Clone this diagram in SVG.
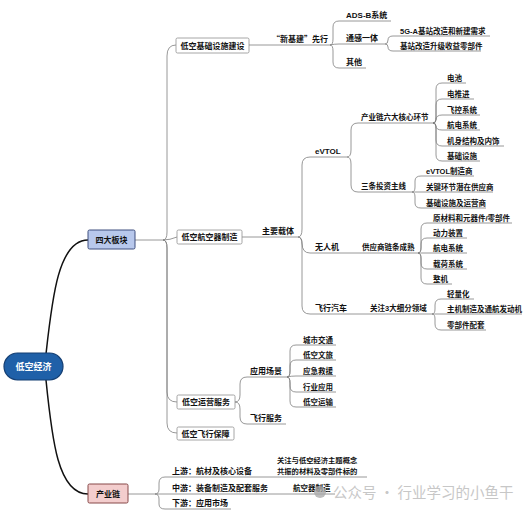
<svg xmlns="http://www.w3.org/2000/svg" width="530" height="513" viewBox="0 0 530 513">
<style>
.ln{fill:none;stroke:#7d7d7d;stroke-width:0.8}
.rt{fill:none;stroke:#111;stroke-width:1.5}
.t{font-family:"Liberation Sans","Noto Sans CJK SC",sans-serif;font-weight:700;font-size:8px;fill:#111}
.s{font-family:"Liberation Sans","Noto Sans CJK SC",sans-serif;font-weight:700;font-size:7.5px;fill:#111}
.x{font-family:"Noto Sans CJK SC",sans-serif;font-weight:700;font-size:7.3px;fill:#111}
.c{text-anchor:middle}
.box{fill:#fff;stroke:#8f8f8f;stroke-width:0.8}
</style>
<rect width="530" height="513" fill="#fff"/>
<g id="connectors">
<path class="rt" d="M46,354 C52,300 58,240 88,240"/>
<path class="rt" d="M46,380 C52,440 58,494 88,494"/>
<path class="ln" d="M135,240 L163,240"/>
<path class="ln" d="M163,240 Q167,240 167,232 L167,56 Q167,45 176,45"/>
<path class="ln" d="M163,240 Q170,240 177,237"/>
<path class="ln" d="M163,240 Q167,240 167,248 L167,392 Q167,402 177,402"/>
<path class="ln" d="M163,240 Q167,240 167,248 L167,423 Q167,433 177,433"/>
<path class="ln" d="M249,45 L330,45"/>
<path class="ln" d="M330,45 Q333,45 333,39 L333,27 Q333,21 339,21 L391,21"/>
<path class="ln" d="M330,45 Q334,44 339,44 L385,44"/>
<path class="ln" d="M330,45 Q333,45 333,51 L333,62 Q333,68 339,68 L366,68"/>
<path class="ln" d="M385,44 Q388,44 388,40 Q388,36 393,36 L490,36"/>
<path class="ln" d="M385,44 Q388,44 388,47 Q388,51 393,51 L481,51"/>
<path class="ln" d="M242,237 L298,237"/>
<path class="ln" d="M298,237 Q302,237 302,229 L302,165 Q302,157 310,157 L347,157"/>
<path class="ln" d="M298,237 Q302,237 302,243 Q302,253 310,253 L418,253"/>
<path class="ln" d="M298,237 Q302,237 302,245 L302,306 Q302,314 310,314 L432,314"/>
<path class="ln" d="M347,157 Q351,157 351,150 L351,130 Q351,123 358,123 L433,123"/>
<path class="ln" d="M347,157 Q351,157 351,164 L351,185 Q351,192 358,192 L412,192"/>
<path class="ln" d="M433,123 Q436,123 436,117 L436,89 Q436,83 442,83 L466,83"/>
<path class="ln" d="M433,123 Q436,123 436,117 L436,105 Q436,99 442,99 L474,99"/>
<path class="ln" d="M433,123 Q436,123 436,120 Q436,115 442,115 L480,115"/>
<path class="ln" d="M433,123 Q436,123 436,126 Q436,130 442,130 L480,130"/>
<path class="ln" d="M433,123 Q436,123 436,129 L436,140 Q436,146 442,146 L504,146"/>
<path class="ln" d="M433,123 Q436,123 436,129 L436,155 Q436,161 442,161 L480,161"/>
<path class="ln" d="M412,192 Q415,192 415,187 L415,181 Q415,176 421,176 L474,176"/>
<path class="ln" d="M412,192 L493,192"/>
<path class="ln" d="M412,192 Q415,192 415,197 L415,203 Q415,208 421,208 L486,208"/>
<path class="ln" d="M418,253 Q421,253 421,247 L421,229 Q421,223 427,223 L512,223"/>
<path class="ln" d="M418,253 Q421,253 421,248 L421,244 Q421,238 427,238 L467,238"/>
<path class="ln" d="M418,253 L467,253"/>
<path class="ln" d="M418,253 Q421,253 421,258 L421,263 Q421,269 427,269 L467,269"/>
<path class="ln" d="M418,253 Q421,253 421,259 L421,278 Q421,284 427,284 L452,284"/>
<path class="ln" d="M432,314 Q435,314 435,309 L435,305 Q435,299 441,299 L474,299"/>
<path class="ln" d="M432,314 L522,314"/>
<path class="ln" d="M432,314 Q435,314 435,319 L435,324 Q435,330 441,330 L486,330"/>
<path class="ln" d="M235,402 Q240,402 240,395 L240,384 Q240,377 247,377 L287,377"/>
<path class="ln" d="M235,402 Q240,402 240,409 L240,417 Q240,424 247,424 L286,424"/>
<path class="ln" d="M287,377 Q290,377 290,371 L290,351 Q290,345 296,345 L336,345"/>
<path class="ln" d="M287,377 Q290,377 290,371 L290,366 Q290,360 296,360 L336,360"/>
<path class="ln" d="M287,377 Q291,376 296,376 L336,376"/>
<path class="ln" d="M287,377 Q290,377 290,383 L290,386 Q290,392 296,392 L336,392"/>
<path class="ln" d="M287,377 Q290,377 290,383 L290,401 Q290,407 296,407 L336,407"/>
<path class="ln" d="M128,494 L155,494"/>
<path class="ln" d="M155,494 Q159,494 159,489 L159,483 Q159,477 165,477 L367,477"/>
<path class="ln" d="M155,494 L335,494"/>
<path class="ln" d="M155,494 Q159,494 159,499 L159,504 Q159,509 165,509 L231,509"/>
</g>
<g id="root">
<rect x="4" y="353" width="59" height="27" rx="13.5" fill="#1f60a8" stroke="#153f73" stroke-width="1.2"/>
<text class="t c" x="33.5" y="370" style="font-size:9px;fill:#fff">低空经济</text>
</g>
<g id="sidaban">
<rect x="88" y="230" width="47" height="19" rx="1.5" fill="#b8c8ec" stroke="#3f4f7e" stroke-width="1"/>
<text class="t c" x="111.5" y="242.5">四大板块</text>
</g>
<g id="chanyelian">
<rect x="88" y="484" width="40" height="19" rx="1.5" fill="#f3cdcd" stroke="#874848" stroke-width="1"/>
<text class="t c" x="108" y="496.5">产业链</text>
</g>
<g id="infra">
<rect class="box" x="176" y="38" width="73" height="15" rx="1.5"/>
<text class="t c" x="212.5" y="48.5">低空基础设施建设</text>
</g>
<g id="aircraft">
<rect class="box" x="177" y="230" width="65" height="14" rx="1.5"/>
<text class="t c" x="209.5" y="240">低空航空器制造</text>
</g>
<g id="ops">
<rect class="box" x="177" y="395" width="58" height="14" rx="1.5"/>
<text class="t c" x="206" y="405">低空运营服务</text>
</g>
<g id="guarantee">
<rect class="box" x="177" y="427" width="57" height="13" rx="1.5"/>
<text class="t c" x="205.5" y="436.5">低空飞行保障</text>
</g>
<g id="infra-children">
<text class="t" x="272" y="42" style="font-family:'Noto Sans CJK SC',sans-serif">“新基建”先行</text>
<text class="t" x="346" y="18">ADS-B系统</text>
<text class="t" x="346" y="41">通感一体</text>
<text class="t" x="346" y="65">其他</text>
<text class="s" x="400" y="33.5">5G-A基站改造和新建需求</text>
<text class="s" x="400" y="48.5">基站改造升级收益零部件</text>
</g>
<g id="aircraft-children">
<text class="t" x="262" y="234">主要载体</text>
<text class="t" x="315" y="154">eVTOL</text>
<text class="t" x="315" y="250">无人机</text>
<text class="t" x="315" y="311">飞行汽车</text>
<text class="s" x="361" y="120">产业链六大核心环节</text>
<text class="s" x="361" y="189">三条投资主线</text>
<text class="s" x="362" y="250">供应商链条成熟</text>
<text class="s" x="370" y="311">关注3大细分领域</text>
<text class="s" x="447" y="80.5">电池</text>
<text class="s" x="447" y="96.5">电推进</text>
<text class="s" x="447" y="112.5">飞控系统</text>
<text class="s" x="447" y="127.5">航电系统</text>
<text class="s" x="447" y="143.5">机身结构及内饰</text>
<text class="s" x="447" y="158.5">基础设施</text>
<text class="s" x="426" y="173.5">eVTOL制造商</text>
<text class="s" x="426" y="189.5">关键环节潜在供应商</text>
<text class="s" x="426" y="205.5">基础设施及运营商</text>
<text class="s" x="433" y="220.5">原材料和元器件/零部件</text>
<text class="s" x="433" y="235.5">动力装置</text>
<text class="s" x="433" y="250.5">航电系统</text>
<text class="s" x="433" y="266.5">载荷系统</text>
<text class="s" x="433" y="281.5">整机</text>
<text class="s" x="447" y="296.5">轻量化</text>
<text class="s" x="447" y="311.5">主机制造及通航发动机</text>
<text class="s" x="447" y="327.5">零部件配套</text>
</g>
<g id="ops-children">
<text class="t" x="250" y="374">应用场景</text>
<text class="t" x="250" y="421">飞行服务</text>
<text class="s" x="303" y="342.5">城市交通</text>
<text class="s" x="303" y="357.5">低空文旅</text>
<text class="s" x="303" y="373.5">应急救援</text>
<text class="s" x="303" y="389.5">行业应用</text>
<text class="s" x="303" y="404.5">低空运输</text>
</g>
<g id="chain-children">
<text class="t" x="172" y="474">上游：航材及核心设备</text>
<text class="t" x="172" y="490.5">中游：装备制造及配套服务</text>
<text class="t" x="172" y="506">下游：应用市场</text>
<text class="x" x="277" y="463">关注与低空经济主题概念</text>
<text class="x" x="277" y="474">共振的材料及零部件标的</text>
<text class="s" x="293" y="490.5">航空器制造</text>
</g>
<g id="watermark" opacity="0.75">
<circle cx="320" cy="492" r="6" fill="#a8a8a8"/>
<text x="333" y="497.5" style="font-family:'Noto Sans CJK SC',sans-serif;font-size:14.5px;fill:#b5b5b5">公众号 · 行业学习的小鱼干</text>
</g>
</svg>
